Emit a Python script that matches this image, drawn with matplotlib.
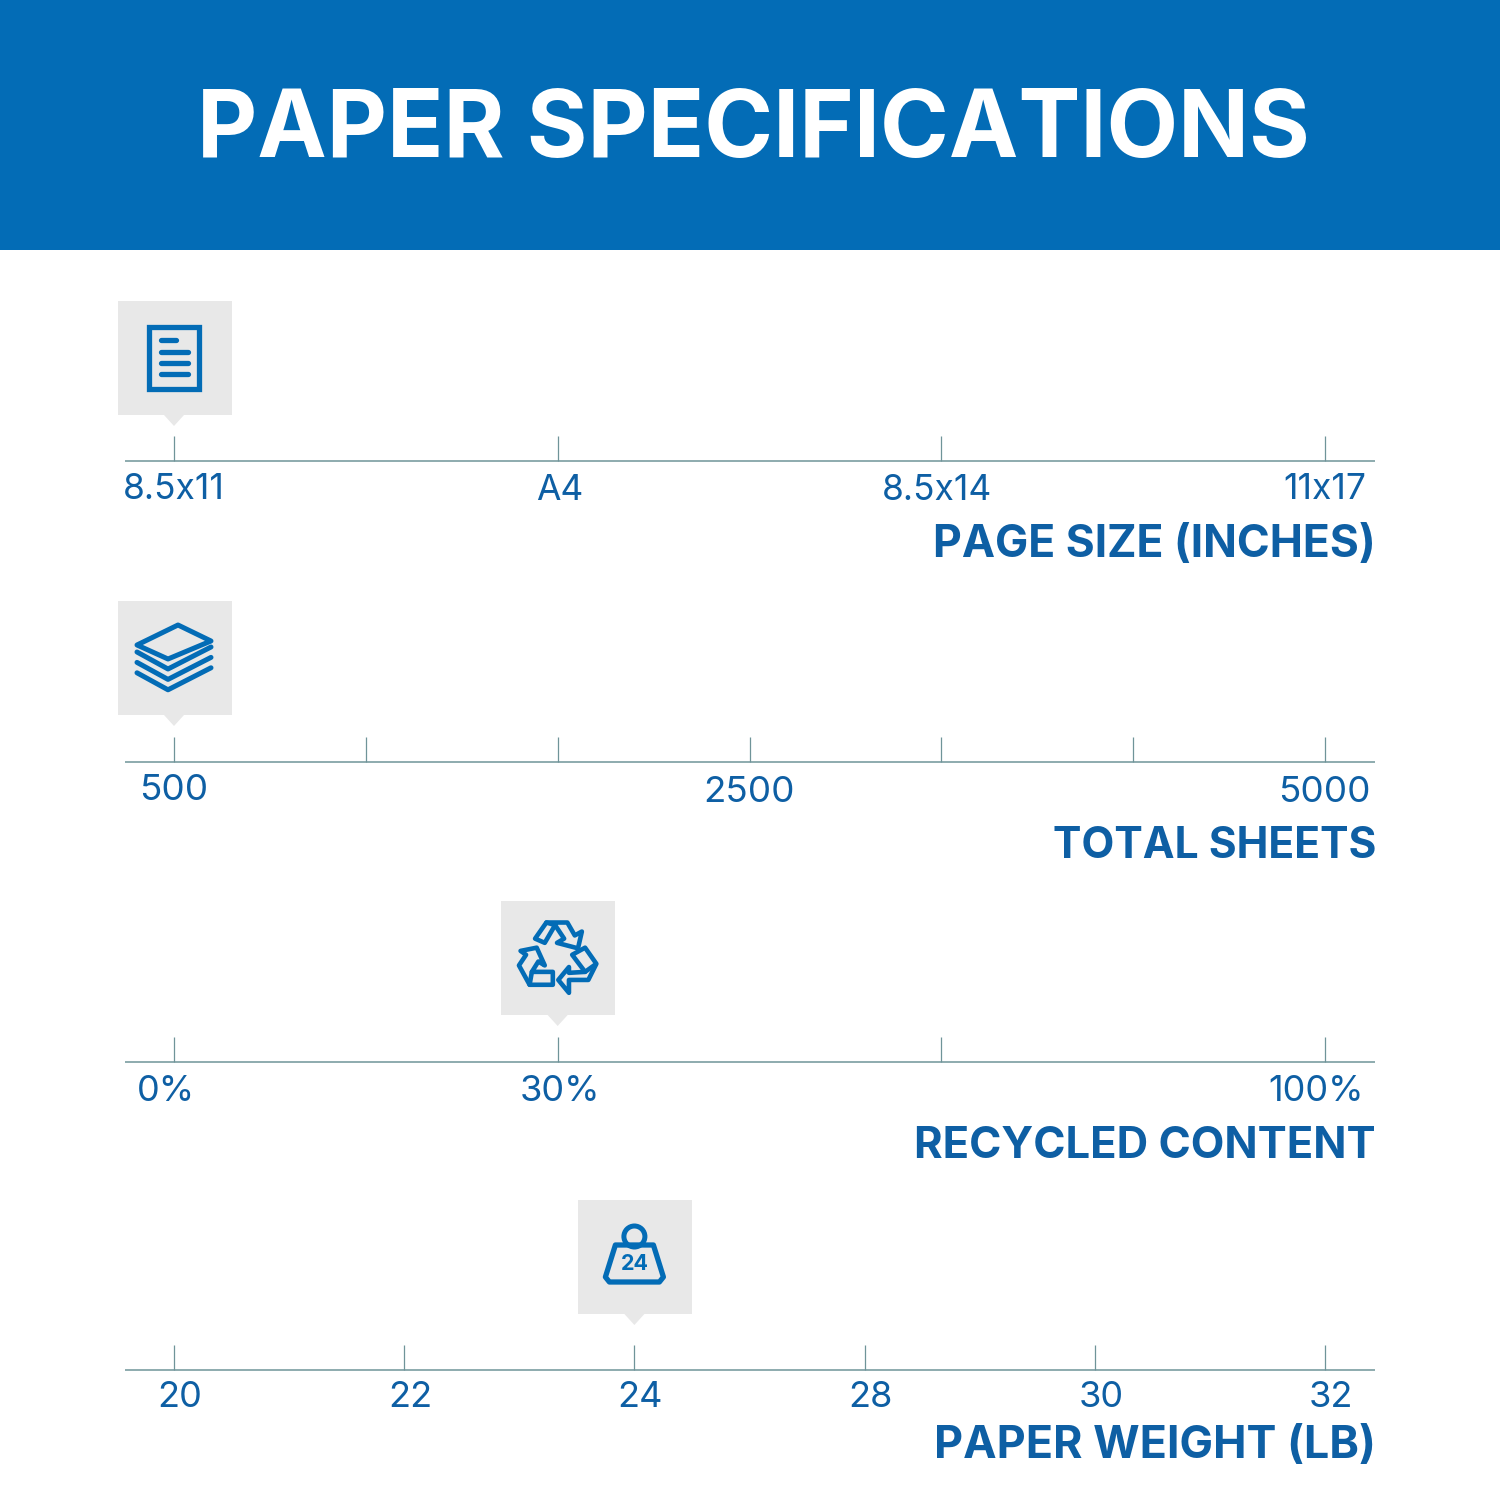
import matplotlib
matplotlib.use('Agg')
import matplotlib.pyplot as plt
from matplotlib.patches import Rectangle, Polygon, Circle
from matplotlib.transforms import ScaledTranslation

plt.rcParams['font.family'] = ['Inter', 'DejaVu Sans']

# Chart content
chart_title = 'PAPER SPECIFICATIONS'
row_titles = ['PAGE SIZE (INCHES)', 'TOTAL SHEETS', 'RECYCLED CONTENT', 'PAPER WEIGHT (LB)']
size_labels = ['8.5x11', 'A4', '8.5x14', '11x17']
sheet_labels = ['500', '', '', '2500', '', '', '5000']
recycled_labels = ['0%', '30%', '', '100%']
weight_labels = ['20', '22', '24', '28', '30', '32']
selected = [0, 0, 1, 2]

# Layout, in pixels of the 1500x1500 picture
baselines = [461, 762, 1062, 1370]
box_gaps = [46, 47, 47, 56]
title_offsets = [84, 84, 84, 76]
title_sizes = [32, 30.7, 31.4, 32.3]
label_sizes = [25.5, 26.5, 26, 26]
size_dx = [0, 2, -4, 0]
sheet_dx = [0, 0, 0, 0, 0, 0, -1]
recycled_dx = [-8, 2, 0, -9]
weight_dx = [6, 6, 6, 6, 6, 6]
size_dy = [2, 3, 3, 2]
sheet_dy = [2, 0, 0, 4, 0, 0, 4]
recycled_dy = [3, 3, 3, 3]
weight_dy = [1, 1, 1, 1, 1, 1]

BLUE = '#036cb6'
TEXT = '#0e5fa4'
LINE = '#6f9499'
BOX = '#e8e8e8'

fig = plt.figure(figsize=(15, 15), dpi=100, facecolor='white')

# Overlay in pixel coordinates for the banner and the icons
bg = fig.add_axes([0, 0, 1, 1])
bg.set_xlim(0, 1500)
bg.set_ylim(1500, 0)
bg.axis('off')

bg.add_patch(Rectangle((0, 0), 1500, 250, color=BLUE, lw=0))
bg.text(753, 133, chart_title, color='white', fontsize=67, fontweight='bold',
        ha='center', va='center')


def icon_line(pts, cx, cy, closed=False, lw=3.6):
    bg.add_patch(Polygon([(cx + x, cy + y) for x, y in pts], closed=closed, fill=False,
                         ec=BLUE, lw=lw, joinstyle='round', capstyle='round'))


def draw_doc(cx, cy):
    bg.add_patch(Rectangle((cx - 25, cy - 31), 50, 62, fill=False, ec=BLUE, lw=3.8))
    for y, x1 in [(-18, 2), (-6, 14), (5, 14), (16, 14)]:
        bg.plot([cx - 13, cx + x1], [cy + y, cy + y], color=BLUE, lw=3.8, solid_capstyle='round')


def draw_stack(cx, cy):
    icon_line([(4, -33), (37, -17), (-6, 1), (-37, -13)], cx, cy, closed=True)
    for i in range(3):
        off = i * 10.4
        icon_line([(-37, -6 + off), (-6, 11 + off), (37, -11 + off)], cx, cy)


def draw_recycle(cx, cy):
    pieces = [
        ([(135, 122), (170, 72), (235, 72), (258, 112), (280, 100), (268, 152), (203, 135), (225, 122), (197, 80), (165, 135)], True),
        ([(170, 72), (197, 80)], False),
        ([(250, 172), (290, 150), (325, 200), (300, 250), (240, 250), (240, 290), (207, 250), (240, 210), (240, 228), (290, 225)], True),
        ([(290, 225), (322, 202)], False),
        ([(90, 160), (140, 150), (165, 205), (145, 193), (125, 225), (190, 225), (190, 265), (118, 265), (85, 205), (107, 172)], True),
        ([(125, 225), (118, 265)], False),
    ]
    for pts, closed in pieces:
        icon_line([((x - 205) / 3.1, (y - 182) / 3.1) for x, y in pts], cx, cy, closed=closed, lw=3.3)


def draw_weight(cx, cy):
    bg.add_patch(Circle((cx, cy - 20.5), 10.5, fill=False, ec=BLUE, lw=3.6))
    icon_line([(-19, -12), (19, -12), (29, 20), (25, 25), (-25, 25), (-29, 20)], cx, cy, closed=True, lw=3.8)
    bg.text(cx, cy + 7.5, '24', color=BLUE, fontsize=15.5, fontweight='bold', ha='center', va='center')


icons = [draw_doc, draw_stack, draw_recycle, draw_weight]
row_labels = [size_labels, sheet_labels, recycled_labels, weight_labels]
row_dx = [size_dx, sheet_dx, recycled_dx, weight_dx]
row_dy = [size_dy, sheet_dy, recycled_dy, weight_dy]

AX_LEFT, AX_RIGHT, FIRST_TICK, LAST_TICK = 125, 1375, 174, 1325

for r, labels in enumerate(row_labels):
    base = baselines[r]
    ax = fig.add_axes([AX_LEFT / 1500, 1 - base / 1500, (AX_RIGHT - AX_LEFT) / 1500, 30 / 1500])
    ax.patch.set_visible(False)
    n = len(labels)
    step = (LAST_TICK - FIRST_TICK) / (n - 1)
    ax.set_xlim(-(FIRST_TICK - AX_LEFT) / step, n - 1 + (AX_RIGHT - LAST_TICK) / step)
    ax.set_yticks([])
    for side in ['top', 'left', 'right']:
        ax.spines[side].set_visible(False)
    ax.spines['bottom'].set_color(LINE)
    ax.spines['bottom'].set_linewidth(1.1)
    ax.spines['bottom'].set_capstyle('butt')
    ax.set_xticks(range(n))
    ax.set_xticklabels(labels)
    ax.tick_params(axis='x', direction='in', length=18, width=0.9, color=LINE, pad=7,
                   labelsize=label_sizes[r], labelcolor=TEXT)
    for lab, dx, dy in zip(ax.get_xticklabels(), row_dx[r], row_dy[r]):
        lab.set_transform(lab.get_transform() + ScaledTranslation(dx / 100, -dy / 100, fig.dpi_scale_trans))

    # marker box above the selected tick
    tick_x = FIRST_TICK + selected[r] * step
    top = base - box_gaps[r] - 114
    bg.add_patch(Rectangle((tick_x - 56.5, top), 114, 114, color=BOX, lw=0))
    bg.add_patch(Polygon([(tick_x - 10, top + 114), (tick_x + 10, top + 114), (tick_x, top + 125)],
                         color=BOX, lw=0))
    icons[r](tick_x, top + 57)

    bg.text(1376, base + title_offsets[r], row_titles[r], color=TEXT, fontsize=title_sizes[r], fontweight='bold',
            ha='right', va='center')

fig.savefig('out.png', dpi=100, facecolor='white')
